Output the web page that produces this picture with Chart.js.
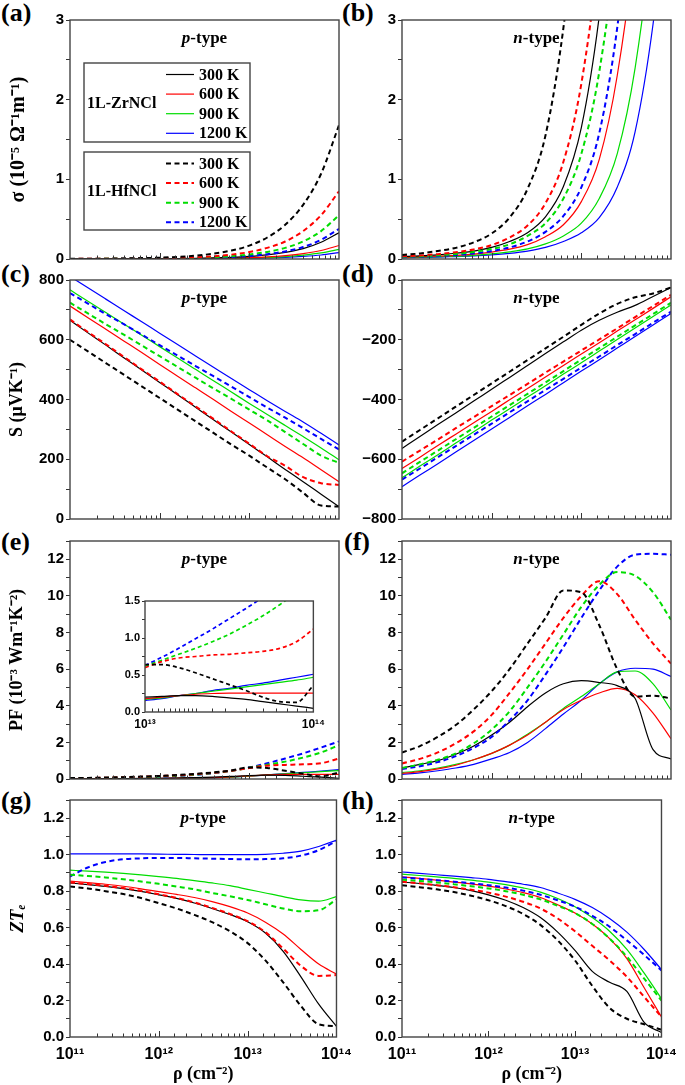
<!DOCTYPE html>
<html>
<head>
<meta charset="utf-8">
<script src="https://cdn.jsdelivr.net/npm/chart.js@4.4.1/dist/chart.umd.min.js"></script>
<style>
  body { margin: 0; background: #fff; width: 685px; height: 1085px; position: relative; overflow: hidden; }
  canvas { position: absolute; }
  .tag { position: absolute; font: bold 26px 'Times New Roman', 'Liberation Serif', serif; line-height: 1; color: #000; }
</style>
</head>
<body>
<div class="tag" style="left:1px;top:0px">(a)</div>
<div class="tag" style="left:342px;top:0px">(b)</div>
<div class="tag" style="left:1px;top:261px">(c)</div>
<div class="tag" style="left:342px;top:261px">(d)</div>
<div class="tag" style="left:1px;top:529px">(e)</div>
<div class="tag" style="left:344px;top:529px">(f)</div>
<div class="tag" style="left:1px;top:788px">(g)</div>
<div class="tag" style="left:342px;top:788px">(h)</div>
<script>
// carrier concentration (cm^-2), 0.2 decade steps
const rho = [1e11, 1.585e11, 2.512e11, 3.981e11, 6.31e11, 1e12, 1.585e12, 2.512e12, 3.981e12, 6.31e12,
             1e13, 1.585e13, 2.512e13, 3.981e13, 6.31e13, 1e14];
// inset of (e), 0.1 decade steps
const rhoInset = [1e13, 1.259e13, 1.585e13, 1.995e13, 2.512e13, 3.162e13, 3.981e13, 5.012e13, 6.31e13, 7.943e13, 1e14];

const temps = ['300 K', '600 K', '900 K', '1200 K'];

// (a) sigma, p-type
const sigP_Zr300  = [0.001,0.001,0.001,0.002,0.002,0.003,0.005,0.008,0.013,0.021,0.033,0.052,0.083,0.13,0.21,0.33];
const sigP_Zr600  = [0,0,0.001,0.001,0.001,0.002,0.003,0.004,0.007,0.011,0.017,0.027,0.043,0.068,0.107,0.17];
const sigP_Zr900  = [0,0,0,0.001,0.001,0.001,0.002,0.003,0.005,0.008,0.012,0.019,0.030,0.048,0.076,0.12];
const sigP_Zr1200 = [0,0,0,0,0.001,0.001,0.001,0.002,0.003,0.005,0.008,0.013,0.020,0.032,0.050,0.08];
const sigP_Hf300  = [0.002,0.003,0.004,0.007,0.011,0.017,0.027,0.042,0.067,0.106,0.168,0.27,0.43,0.68,1.07,1.68];
const sigP_Hf600  = [0.001,0.002,0.002,0.004,0.006,0.009,0.014,0.022,0.035,0.055,0.087,0.14,0.22,0.35,0.55,0.85];
const sigP_Hf900  = [0.001,0.001,0.002,0.002,0.004,0.006,0.009,0.014,0.022,0.035,0.056,0.089,0.14,0.22,0.35,0.55];
const sigP_Hf1200 = [0.001,0.001,0.001,0.002,0.003,0.004,0.006,0.010,0.015,0.024,0.038,0.060,0.095,0.15,0.24,0.38];

// (b) sigma, n-type
const sigN_Zr300  = [0.031,0.039,0.052,0.072,0.10,0.145,0.22,0.33,0.53,0.91,1.65,3.05,5.2,8.5,13,20];
const sigN_Zr600  = [0.022,0.028,0.035,0.045,0.062,0.087,0.123,0.18,0.28,0.43,0.72,1.25,2.3,4.0,6.8,11];
const sigN_Zr900  = [0.017,0.022,0.028,0.035,0.046,0.064,0.09,0.127,0.19,0.29,0.45,0.76,1.32,2.4,4.2,7];
const sigN_Zr1200 = [0.015,0.019,0.024,0.031,0.038,0.051,0.071,0.10,0.145,0.22,0.33,0.52,0.9,1.6,2.95,5.0];
const sigN_Hf300  = [0.05,0.07,0.10,0.14,0.21,0.32,0.52,0.88,1.55,2.9,5.0,8,12,18,26,36];
const sigN_Hf600  = [0.034,0.044,0.061,0.086,0.12,0.175,0.27,0.42,0.7,1.22,2.2,3.9,6.5,11,17,27];
const sigN_Hf900  = [0.028,0.035,0.045,0.063,0.089,0.125,0.185,0.29,0.45,0.76,1.32,2.35,4.1,7,11,17];
const sigN_Hf1200 = [0.024,0.030,0.038,0.05,0.07,0.10,0.145,0.22,0.34,0.54,0.9,1.58,2.9,5.0,8,12];

// (c) Seebeck, p-type
const sP_Zr300  = [665,623,582,540,499,457,416,374,332,291,249,208,166,125,83,41];
const sP_Zr600  = [713,674,635,596,557,517,478,439,400,360,321,282,243,205,165,125];
const sP_Zr900  = [767,729,691,653,615,577,539,501,463,425,387,350,313,276,238,198];
const sP_Zr1200 = [812,774,736,698,660,622,584,546,508,470,433,396,360,325,287,248];
const sP_Hf300  = [600,561,522,483,444,405,366,327,288,249,212,172,133,88,45,42];
const sP_Hf600  = [668,626,585,543,501,460,418,377,335,293,252,210,178,140,120,114];
const sP_Hf900  = [724,688,652,617,581,545,509,473,437,402,366,330,291,251,212,188];
const sP_Hf1200 = [756,721,686,652,617,582,547,512,478,443,408,373,339,304,268,233];

// (d) Seebeck, n-type
const sN_Zr300  = [-564,-524,-484,-445,-405,-366,-326,-286,-246,-207,-168,-135,-108,-85,-55,-25];
const sN_Zr600  = [-631,-593,-554,-516,-478,-440,-401,-363,-325,-286,-248,-210,-171,-133,-95,-56];
const sN_Zr900  = [-662,-623,-585,-546,-508,-469,-431,-392,-354,-315,-277,-238,-199,-161,-122,-84];
const sN_Zr1200 = [-692,-653,-615,-576,-537,-499,-460,-421,-383,-344,-305,-267,-228,-189,-151,-112];
const sN_Hf300  = [-541,-502,-463,-424,-385,-346,-307,-268,-229,-190,-150,-112,-80,-58,-45,-25];
const sN_Hf600  = [-608,-571,-534,-496,-459,-422,-385,-348,-310,-273,-236,-199,-162,-124,-87,-50];
const sN_Hf900  = [-647,-609,-571,-533,-495,-457,-419,-381,-343,-305,-266,-228,-190,-152,-114,-76];
const sN_Hf1200 = [-668,-631,-593,-556,-518,-481,-443,-406,-368,-331,-293,-256,-218,-181,-143,-106];

// (e) power factor, p-type
const pfP_Zr300  = [0.01,0.015,0.02,0.025,0.03,0.04,0.055,0.07,0.1,0.14,0.19,0.21,0.2,0.15,0.1,0.04];
const pfP_Zr600  = [0.01,0.012,0.016,0.02,0.026,0.034,0.045,0.06,0.08,0.12,0.17,0.22,0.25,0.25,0.25,0.25];
const pfP_Zr900  = [0.006,0.008,0.011,0.015,0.02,0.027,0.036,0.05,0.07,0.1,0.16,0.22,0.28,0.34,0.4,0.46];
const pfP_Zr1200 = [0.005,0.007,0.01,0.013,0.018,0.025,0.034,0.047,0.066,0.095,0.15,0.22,0.29,0.36,0.43,0.51];
const pfP_Hf300  = [0.05,0.06,0.08,0.1,0.13,0.17,0.22,0.28,0.36,0.47,0.63,0.6,0.45,0.29,0.14,0.36];
const pfP_Hf600  = [0.04,0.05,0.07,0.09,0.12,0.16,0.2,0.26,0.34,0.45,0.6,0.73,0.77,0.8,0.86,1.12];
const pfP_Hf900  = [0.03,0.04,0.06,0.08,0.1,0.14,0.18,0.24,0.33,0.45,0.62,0.78,0.95,1.17,1.45,1.85];
const pfP_Hf1200 = [0.03,0.04,0.05,0.07,0.09,0.13,0.17,0.23,0.32,0.45,0.63,0.86,1.12,1.4,1.72,2.05];

// (e) inset, 1e13 .. 1e14
const inset_Zr300  = [0.2,0.21,0.22,0.22,0.21,0.19,0.17,0.14,0.11,0.08,0.05];
const inset_Zr600  = [0.18,0.2,0.22,0.24,0.25,0.255,0.255,0.255,0.255,0.255,0.255];
const inset_Zr900  = [0.17,0.19,0.22,0.25,0.28,0.31,0.34,0.37,0.4,0.43,0.47];
const inset_Zr1200 = [0.155,0.18,0.22,0.25,0.29,0.32,0.36,0.39,0.43,0.47,0.51];
const inset_Hf300  = [0.64,0.64,0.6,0.53,0.45,0.37,0.29,0.2,0.14,0.13,0.36];
const inset_Hf600  = [0.6,0.68,0.73,0.75,0.77,0.78,0.8,0.82,0.86,0.95,1.12];
const inset_Hf900  = [0.62,0.7,0.78,0.86,0.95,1.05,1.17,1.3,1.45,1.62,1.85];
const inset_Hf1200 = [0.63,0.74,0.86,0.99,1.12,1.26,1.4,1.55,1.72,1.88,2.05];

// (f) power factor, n-type
const pfN_Zr300  = [0.6,0.8,1.0,1.35,1.8,2.4,3.1,3.95,4.7,5.2,5.37,5.27,5.1,4.4,1.6,1.1];
const pfN_Zr600  = [0.3,0.4,0.55,0.75,1.05,1.4,1.85,2.4,3.1,3.8,4.3,4.7,4.95,4.6,3.6,2.2];
const pfN_Zr900  = [0.35,0.45,0.6,0.8,1.05,1.4,1.85,2.45,3.1,3.85,4.5,5.2,5.85,5.9,5.2,3.77];
const pfN_Zr1200 = [0.25,0.33,0.45,0.6,0.8,1.1,1.45,2.0,2.75,3.55,4.3,5.2,5.85,6.05,6.0,5.6];
const pfN_Hf300  = [1.45,1.8,2.3,2.95,3.8,4.8,6.0,7.4,8.8,10.3,10.2,8.4,6.0,4.5,4.55,4.4];
const pfN_Hf600  = [0.85,1.1,1.45,1.95,2.6,3.5,4.7,6.0,7.4,8.8,10.0,10.8,10.1,8.7,7.4,6.3];
const pfN_Hf900  = [0.6,0.8,1.05,1.4,1.95,2.7,3.7,5.0,6.4,7.9,9.4,10.6,11.3,11.1,10.2,8.7];
const pfN_Hf1200 = [0.55,0.7,0.92,1.25,1.7,2.3,3.2,4.3,5.7,7.2,8.8,10.3,11.6,12.25,12.3,12.25];

// (g) ZTe, p-type
const ztP_Zr300  = [0.845,0.836,0.826,0.814,0.799,0.78,0.76,0.735,0.705,0.672,0.632,0.57,0.47,0.33,0.18,0.058];
const ztP_Zr600  = [0.855,0.847,0.838,0.827,0.813,0.797,0.782,0.765,0.743,0.715,0.68,0.63,0.565,0.48,0.40,0.345];
const ztP_Zr900  = [0.915,0.91,0.904,0.897,0.889,0.88,0.87,0.858,0.845,0.83,0.81,0.79,0.77,0.752,0.745,0.77];
const ztP_Zr1200 = [1.005,1.005,1.005,1.005,1.004,1.003,1.002,1.001,1.0,1.0,1.0,1.002,1.008,1.02,1.045,1.08];
const ztP_Hf300  = [0.825,0.815,0.80,0.784,0.762,0.734,0.705,0.67,0.63,0.58,0.515,0.42,0.30,0.17,0.07,0.06];
const ztP_Hf600  = [0.848,0.839,0.829,0.817,0.802,0.783,0.763,0.738,0.708,0.675,0.635,0.575,0.485,0.39,0.335,0.34];
const ztP_Hf900  = [0.89,0.883,0.875,0.865,0.853,0.84,0.825,0.81,0.79,0.772,0.752,0.728,0.705,0.69,0.695,0.755];
const ztP_Hf1200 = [0.88,0.93,0.96,0.975,0.98,0.982,0.982,0.98,0.978,0.976,0.975,0.976,0.98,0.995,1.025,1.075];

// (h) ZTe, n-type
const ztN_Zr300  = [0.85,0.842,0.832,0.82,0.803,0.78,0.75,0.71,0.655,0.575,0.475,0.36,0.30,0.25,0.08,0.025];
const ztN_Zr600  = [0.878,0.87,0.86,0.85,0.84,0.828,0.812,0.792,0.765,0.725,0.68,0.62,0.54,0.43,0.27,0.11];
const ztN_Zr900  = [0.893,0.886,0.878,0.87,0.86,0.85,0.836,0.818,0.795,0.76,0.715,0.655,0.58,0.48,0.35,0.21];
const ztN_Zr1200 = [0.905,0.898,0.89,0.882,0.874,0.865,0.852,0.838,0.82,0.79,0.755,0.71,0.65,0.575,0.48,0.37];
const ztN_Hf300  = [0.832,0.822,0.81,0.795,0.775,0.75,0.718,0.675,0.615,0.53,0.42,0.28,0.16,0.1,0.07,0.04];
const ztN_Hf600  = [0.852,0.843,0.833,0.822,0.808,0.792,0.77,0.742,0.705,0.65,0.58,0.5,0.42,0.33,0.22,0.11];
const ztN_Hf900  = [0.863,0.856,0.848,0.838,0.827,0.815,0.8,0.78,0.755,0.72,0.68,0.62,0.54,0.44,0.32,0.2];
const ztN_Hf1200 = [0.875,0.868,0.86,0.852,0.843,0.833,0.82,0.803,0.78,0.75,0.715,0.665,0.605,0.53,0.45,0.365];


// ---- styling / layout ----
const colors = ['#000000', '#ff0000', '#00dd00', '#0000ff'];
const SERIF = "'Times New Roman', 'Liberation Serif', serif";
const SANS = "Arial, 'Liberation Sans', sans-serif";
const SUP = { '0': '⁰', '1': '¹', '2': '²', '3': '³', '4': '⁴', '5': '⁵', '6': '⁶', '7': '⁷', '8': '⁸', '9': '⁹' };

function isDecade(v) {
    const l = Math.log10(v);
    return Math.abs(l - Math.round(l)) < 1e-6;
}
function powLabel(v) {
    if (!isDecade(v)) return '';
    return '10' + String(Math.round(Math.log10(v))).split('').map(c => SUP[c]).join('');
}
function stepLabel(every, dec) {
    return v => {
        const r = v / every;
        if (Math.abs(r - Math.round(r)) > 1e-6) return '';
        const s = Math.abs(v).toFixed(dec);
        return v < -1e-9 ? '\u2212' + s : s;
    };
}

function buildSets(xs, zr, hf, thin) {
    const sets = [];
    // dashed (HfNCl) first so they are drawn on top
    hf.forEach((arr, i) => sets.push({
        label: temps[i], group: '1L-HfNCl',
        data: xs.map((x, j) => ({ x: x, y: arr[j] })),
        borderColor: colors[i], borderWidth: thin ? 1.7 : 2, borderDash: thin ? [4, 3] : [5, 3.5],
        pointRadius: 0, cubicInterpolationMode: 'monotone', fill: false
    }));
    zr.forEach((arr, i) => sets.push({
        label: temps[i], group: '1L-ZrNCl',
        data: xs.map((x, j) => ({ x: x, y: arr[j] })),
        borderColor: colors[i], borderWidth: 1.2, borderDash: [],
        pointRadius: 0, cubicInterpolationMode: 'monotone', fill: false
    }));
    return sets;
}

// box around plot, inward x ticks, p/n-type label
const framePlugin = {
    id: 'frame',
    beforeDatasetsDraw(chart, args, opts) {
        if (!opts.fill) return;
        const a = chart.chartArea;
        chart.ctx.save();
        chart.ctx.fillStyle = '#fff';
        chart.ctx.fillRect(a.left, a.top, a.right - a.left, a.bottom - a.top);
        chart.ctx.restore();
    },
    afterDatasetsDraw(chart, args, opts) {
        const { ctx, chartArea: a } = chart;
        const xs = chart.scales.x;
        ctx.save();
        ctx.strokeStyle = '#333';
        ctx.lineWidth = 1;
        ctx.beginPath();
        xs.ticks.forEach(t => {
            const px = Math.round(xs.getPixelForValue(t.value)) + 0.5;
            if (px <= a.left + 1 || px >= a.right - 1) return;
            ctx.moveTo(px, a.bottom);
            ctx.lineTo(px, a.bottom - (isDecade(t.value) ? 6 : 3.5));
        });
        ctx.stroke();
        ctx.strokeStyle = '#444';
        ctx.lineWidth = 1.4;
        ctx.strokeRect(a.left, a.top, a.right - a.left, a.bottom - a.top);
        if (opts.type) {
            const cx = (a.left + a.right) / 2, cy = a.top + 19;
            ctx.fillStyle = '#000';
            ctx.textBaseline = 'middle';
            ctx.font = 'italic bold 17px ' + SERIF;
            const w1 = ctx.measureText(opts.type).width;
            ctx.font = 'bold 17px ' + SERIF;
            const w2 = ctx.measureText('-type').width;
            const x0 = cx - (w1 + w2) / 2;
            ctx.font = 'italic bold 17px ' + SERIF;
            ctx.fillText(opts.type, x0, cy);
            ctx.font = 'bold 17px ' + SERIF;
            ctx.fillText('-type', x0 + w1, cy);
        }
        ctx.restore();
    }
};

// grouped legend of panel (a), entries taken from the datasets
const groupLegend = {
    id: 'groupLegend',
    afterDraw(chart, args, opts) {
        if (!opts.boxes) return;
        const { ctx, chartArea: a } = chart;
        ctx.save();
        opts.boxes.forEach(b => {
            const left = a.left + b.dx, top = a.top + b.dy;
            ctx.fillStyle = '#fff';
            ctx.fillRect(left, top, b.w, b.h);
            ctx.strokeStyle = '#444';
            ctx.lineWidth = 1.4;
            ctx.setLineDash([]);
            ctx.strokeRect(left, top, b.w, b.h);
            ctx.fillStyle = '#000';
            ctx.textBaseline = 'middle';
            ctx.font = 'bold 16px ' + SERIF;
            ctx.fillText(b.group, left + 3, top + b.h / 2 + 1);
            const sets = chart.data.datasets.filter(d => d.group === b.group);
            sets.forEach((d, i) => {
                const y = top + 11.5 + i * 19.6;
                ctx.strokeStyle = d.borderColor;
                ctx.lineWidth = d.borderWidth;
                ctx.setLineDash(d.borderDash);
                ctx.beginPath();
                ctx.moveTo(left + 82, y);
                ctx.lineTo(left + 110, y);
                ctx.stroke();
                ctx.setLineDash([]);
                ctx.font = 'bold 16px ' + SERIF;
                ctx.fillText(d.label, left + 115, y + 1);
            });
        });
        ctx.restore();
    }
};

const LEFT = { x: 0, w: 360, plotL: 70, plotR: 339 };
const RIGHT = { x: 340, w: 345, plotL: 402, plotR: 671 };
const ROWS = [
    { y: 0, h: 271, top: 20, bottom: 259 },
    { y: 260, h: 271, top: 280, bottom: 519 },
    { y: 521, h: 270, top: 541, bottom: 779 },
    { y: 780, h: 305, top: 800, bottom: 1037 }
];

function makeCanvas(x, y, w, h) {
    const c = document.createElement('canvas');
    c.width = w; c.height = h;
    c.style.left = x + 'px'; c.style.top = y + 'px';
    c.style.width = w + 'px'; c.style.height = h + 'px';
    document.body.appendChild(c);
    return c;
}

function makePanel(col, row, cfg) {
    const cv = makeCanvas(col.x, row.y, col.w, row.h);
    const bottomRow = row === ROWS[3];
    return new Chart(cv, {
        type: 'line',
        data: { datasets: cfg.sets },
        options: {
            responsive: false, animation: false, events: [],
            layout: { autoPadding: false, padding: { top: row.top - row.y, right: col.x + col.w - col.plotR, bottom: 0, left: 0 } },
            plugins: {
                legend: { display: false }, tooltip: { enabled: false },
                frame: { type: cfg.type },
                groupLegend: cfg.legend || {}
            },
            scales: {
                x: {
                    type: 'logarithmic', min: 1e11, max: 1e14,
                    grid: { display: false, drawTicks: false }, border: { display: false },
                    ticks: {
                        display: bottomRow, autoSkip: false, maxRotation: 0, padding: 8, color: '#000',
                        font: { family: SANS, size: 16, weight: 'bold' }, callback: powLabel
                    },
                    title: {
                        display: bottomRow, text: 'ρ (cm⁻²)', color: '#000', padding: { top: 0, bottom: 0 },
                        font: { family: SERIF, size: 18, weight: 'bold' }
                    },
                    afterFit: s => { s.height = row.y + row.h - row.bottom; }
                },
                y: {
                    min: cfg.y.min, max: cfg.y.max,
                    grid: { drawOnChartArea: false, drawTicks: true, tickLength: 4, color: '#333' },
                    border: { display: false },
                    ticks: {
                        stepSize: cfg.y.step, autoSkip: false, padding: 2, color: '#000',
                        font: { family: SANS, size: 15, weight: 'bold' },
                        callback: stepLabel(cfg.y.every, cfg.y.dec)
                    },
                    title: {
                        display: !!cfg.y.title, text: cfg.y.title, color: '#000', padding: { top: 7, bottom: 0 },
                        font: { family: SERIF, size: cfg.y.titleSize || 18, weight: 'bold', style: cfg.y.italic ? 'italic' : 'normal' }
                    },
                    afterFit: s => { s.width = col.plotL - col.x; }
                }
            }
        },
        plugins: [framePlugin, groupLegend]
    });
}

const axSigma = { min: 0, max: 3, step: 0.5, every: 1, dec: 0 };
const axSp = { min: 0, max: 800, step: 100, every: 200, dec: 0 };
const axSn = { min: -800, max: 0, step: 100, every: 200, dec: 0 };
const axPF = { min: 0, max: 13, step: 1, every: 2, dec: 0 };
const axZT = { min: 0, max: 1.3, step: 0.1, every: 0.2, dec: 1 };

makePanel(LEFT, ROWS[0], {
    type: 'p', y: Object.assign({ title: 'σ (10⁻⁵ Ω⁻¹m⁻¹)', titleSize: 20 }, axSigma),
    sets: buildSets(rho, [sigP_Zr300, sigP_Zr600, sigP_Zr900, sigP_Zr1200], [sigP_Hf300, sigP_Hf600, sigP_Hf900, sigP_Hf1200]),
    legend: { boxes: [
        { group: '1L-ZrNCl', dx: 14, dy: 43, w: 166, h: 79 },
        { group: '1L-HfNCl', dx: 14, dy: 132, w: 166, h: 78 }
    ] }
});
makePanel(RIGHT, ROWS[0], {
    type: 'n', y: axSigma,
    sets: buildSets(rho, [sigN_Zr300, sigN_Zr600, sigN_Zr900, sigN_Zr1200], [sigN_Hf300, sigN_Hf600, sigN_Hf900, sigN_Hf1200])
});
makePanel(LEFT, ROWS[1], {
    type: 'p', y: Object.assign({ title: 'S (μVK⁻¹)' }, axSp),
    sets: buildSets(rho, [sP_Zr300, sP_Zr600, sP_Zr900, sP_Zr1200], [sP_Hf300, sP_Hf600, sP_Hf900, sP_Hf1200])
});
makePanel(RIGHT, ROWS[1], {
    type: 'n', y: axSn,
    sets: buildSets(rho, [sN_Zr300, sN_Zr600, sN_Zr900, sN_Zr1200], [sN_Hf300, sN_Hf600, sN_Hf900, sN_Hf1200])
});
makePanel(LEFT, ROWS[2], {
    type: 'p', y: Object.assign({ title: 'PF (10⁻³ Wm⁻¹K⁻²)' }, axPF),
    sets: buildSets(rho, [pfP_Zr300, pfP_Zr600, pfP_Zr900, pfP_Zr1200], [pfP_Hf300, pfP_Hf600, pfP_Hf900, pfP_Hf1200])
});
makePanel(RIGHT, ROWS[2], {
    type: 'n', y: axPF,
    sets: buildSets(rho, [pfN_Zr300, pfN_Zr600, pfN_Zr900, pfN_Zr1200], [pfN_Hf300, pfN_Hf600, pfN_Hf900, pfN_Hf1200])
});
makePanel(LEFT, ROWS[3], {
    type: 'p', y: Object.assign({ title: 'ZTₑ', italic: true, titleSize: 19 }, axZT),
    sets: buildSets(rho, [ztP_Zr300, ztP_Zr600, ztP_Zr900, ztP_Zr1200], [ztP_Hf300, ztP_Hf600, ztP_Hf900, ztP_Hf1200])
});
makePanel(RIGHT, ROWS[3], {
    type: 'n', y: axZT,
    sets: buildSets(rho, [ztN_Zr300, ztN_Zr600, ztN_Zr900, ztN_Zr1200], [ztN_Hf300, ztN_Hf600, ztN_Hf900, ztN_Hf1200])
});

// inset of (e)
const inset = { x: 112, y: 590, w: 218, h: 145, plotL: 145, plotT: 601, plotR: 323, plotB: 712 };
new Chart(makeCanvas(inset.x, inset.y, inset.w, inset.h), {
    type: 'line',
    data: { datasets: buildSets(rhoInset, [inset_Zr300, inset_Zr600, inset_Zr900, inset_Zr1200],
                                [inset_Hf300, inset_Hf600, inset_Hf900, inset_Hf1200], true) },
    options: {
        responsive: false, animation: false, events: [],
        layout: { autoPadding: false, padding: { top: inset.plotT - inset.y, right: inset.x + inset.w - inset.plotR, bottom: 0, left: 0 } },
        plugins: { legend: { display: false }, tooltip: { enabled: false }, frame: { fill: true } },
        scales: {
            x: {
                type: 'logarithmic', min: 1e13, max: 1e14,
                grid: { display: false, drawTicks: false }, border: { display: false },
                ticks: { autoSkip: false, maxRotation: 0, padding: 5, color: '#000',
                         font: { family: SANS, size: 12, weight: 'bold' }, callback: powLabel },
                afterFit: s => { s.height = inset.y + inset.h - inset.plotB; }
            },
            y: {
                min: 0, max: 1.5,
                grid: { drawOnChartArea: false, drawTicks: true, tickLength: 3, color: '#333' },
                border: { display: false },
                ticks: { stepSize: 0.25, autoSkip: false, padding: 2, color: '#000',
                         font: { family: SANS, size: 11, weight: 'bold' }, callback: stepLabel(0.5, 1) },
                afterFit: s => { s.width = inset.plotL - inset.x; }
            }
        }
    },
    plugins: [framePlugin]
});
</script>
</body>
</html>
